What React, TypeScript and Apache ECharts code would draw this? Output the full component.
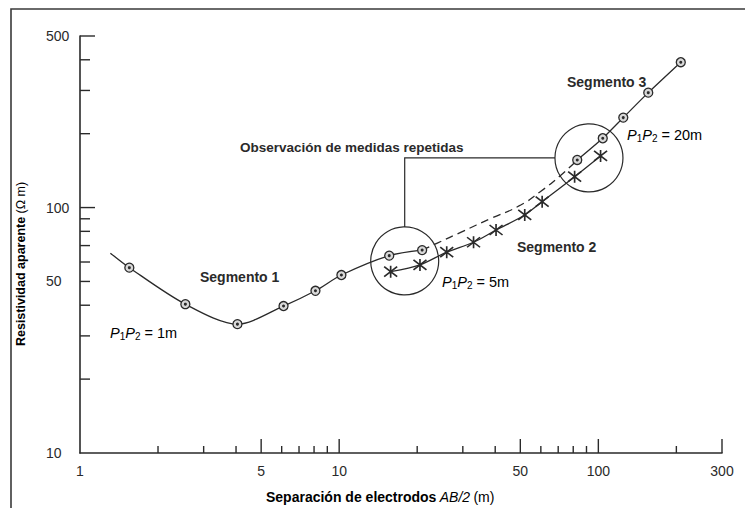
import React, { useEffect, useRef } from 'react';
import * as echarts from 'echarts';

// Schlumberger sounding: apparent resistivity against half electrode spacing AB/2.
// Readings with potential electrode spacing P1P2 = 1 m (segment 1 and repeats)
const spacing1m = [1.55, 2.55, 4.05, 6.1, 8.1, 10.2, 15.6, 20.9];
const rho1m = [56.9, 40.4, 33.5, 39.7, 45.8, 53.1, 63.7, 67.1];
// where the hand-drawn curve of segment 1 begins, before the first reading
const curveStart = [1.31, 65.2];
// Readings with P1P2 = 5 m (segment 2)
const spacing5m = [15.8, 20.5, 26, 33, 40.3, 52, 60.7, 81, 102];
const rho5m = [54.8, 58.4, 65.8, 72.2, 81.0, 93.3, 105.7, 133.6, 162.3];
// Readings with P1P2 = 20 m (segment 3)
const spacing20m = [82.9, 104, 124.8, 155.8, 208];
const rho20m = [156.3, 191.6, 232.5, 293.9, 391];
// dashed shifted curve joining segment 1 to segment 3
const linkSpacing = [20.9, 23.8, 30, 38.2, 49.8, 59.5, 71.1, 82.9];
const linkRho = [67.1, 71.5, 80.0, 90.0, 102.0, 115.8, 134.5, 156.3];

// axis ranges and ticks
const X_MIN = 1;
const X_MAX = 300;
const Y_MIN = 10;
const Y_MAX = 500;
const xLabelValues = [1, 5, 10, 50, 100, 300];
const xMajorTicks = [5, 10, 50, 100, 300];
const xMinorTicks = [2, 3, 4, 6, 7, 8, 9, 20, 30, 40, 60, 70, 80, 90, 200];
const yLabelValues = [10, 50, 100, 500];
const yMajorTicks = [100, 500];
const yMinorTicks = [20, 30, 40, 50, 60, 70, 80, 90, 200, 300, 400];

// centres of the circles marking the repeated measurements (data coords)
const repeatCircle1 = [17.9, 60.6];
const repeatCircle2 = [92.0, 159.3];

const FONT = '"Liberation Sans", Arial, Helvetica, sans-serif';
const INK = '#2a2a2a';

const zip = (xs: number[], ys: number[]) => xs.map((x, i) => [x, ys[i]]);

const CROSS = 'path://M0,1L12,11M12,1L0,11M6,0L6,12';

function tickSeries(values: number[], axis: 'x' | 'y', len: number) {
  return {
    type: 'custom',
    silent: true,
    z: 6,
    data: values.map((v) => (axis === 'x' ? [v, Y_MIN] : [X_MIN, v])),
    renderItem: (_p: any, api: any) => {
      const p = api.coord([api.value(0), api.value(1)]);
      return {
        type: 'line',
        shape:
          axis === 'x'
            ? { x1: p[0], y1: p[1], x2: p[0], y2: p[1] - len }
            : { x1: p[0], y1: p[1], x2: p[0] + len, y2: p[1] },
        style: { stroke: INK, lineWidth: 1.4 },
      };
    },
  };
}

function labelSeries(values: number[], axis: 'x' | 'y') {
  return {
    type: 'custom',
    silent: true,
    z: 6,
    data: values.map((v) => (axis === 'x' ? [v, Y_MIN] : [X_MIN, v])),
    renderItem: (_p: any, api: any) => {
      const v = axis === 'x' ? api.value(0) : api.value(1);
      const p = api.coord([api.value(0), api.value(1)]);
      return {
        type: 'text',
        x: axis === 'x' ? p[0] : p[0] - 34,
        y: axis === 'x' ? p[1] + 18 : p[1],
        style: {
          text: String(v),
          fill: INK,
          fontSize: 14,
          fontFamily: FONT,
          align: axis === 'x' ? 'center' : 'left',
          verticalAlign: 'middle',
        },
      };
    },
  };
}

const pRich = (size: number) => ({
  p: { fontStyle: 'italic', fontSize: size, fontFamily: FONT, lineHeight: 17, color: INK },
  s: { fontSize: 10, fontFamily: FONT, lineHeight: 9, verticalAlign: 'bottom', color: INK },
  n: { fontSize: size, fontFamily: FONT, lineHeight: 17, color: INK },
});

function electrodeLabel(x: number, y: number, dist: string) {
  return {
    type: 'text',
    x,
    y,
    style: {
      text: `{p|P}{s|1}{p|P}{s|2}{n| = ${dist}}`,
      rich: pRich(14.5),
      align: 'left',
      verticalAlign: 'middle',
    },
  };
}

function boldLabel(x: number, y: number, text: string, size = 14) {
  return {
    type: 'text',
    x,
    y,
    style: {
      text,
      fill: INK,
      fontSize: size,
      fontWeight: 'bold',
      fontFamily: FONT,
      align: 'left',
      verticalAlign: 'middle',
    },
  };
}

export default function App() {
  const ref = useRef<HTMLDivElement>(null);

  useEffect(() => {
    const chart = echarts.init(ref.current!, null, { renderer: 'svg' });
    const axisCommon = {
      axisLine: { show: true, onZero: false, lineStyle: { color: INK, width: 1.6 } },
      axisTick: { show: false },
      axisLabel: { show: false },
      splitLine: { show: false },
      minorTick: { show: false },
    };
    const lineStyle = { color: INK, width: 1.3 };

    chart.setOption({
      animation: false,
      backgroundColor: '#ffffff',
      grid: { left: 80, top: 36, width: 642, height: 417, containLabel: false },
      xAxis: { type: 'log', logBase: 10, min: X_MIN, max: X_MAX, ...axisCommon },
      yAxis: { type: 'log', logBase: 10, min: Y_MIN, max: Y_MAX, ...axisCommon },
      series: [
        {
          name: 'P1P2 = 1m',
          type: 'line',
          data: [curveStart, ...zip(spacing1m, rho1m)],
          smooth: 0.3,
          showSymbol: false,
          lineStyle,
          z: 3,
        },
        {
          name: 'curva desplazada',
          type: 'line',
          data: zip(linkSpacing, linkRho),
          smooth: 0.6,
          showSymbol: false,
          lineStyle: { ...lineStyle, type: [8, 5] },
          z: 3,
        },
        {
          name: 'P1P2 = 20m',
          type: 'line',
          data: zip(spacing20m, rho20m),
          smooth: 0.2,
          showSymbol: false,
          lineStyle,
          z: 3,
        },
        {
          name: 'P1P2 = 5m',
          type: 'line',
          data: zip(spacing5m, rho5m),
          smooth: 0.3,
          showSymbol: false,
          lineStyle,
          z: 3,
        },
        {
          name: 'lecturas 1m/20m',
          type: 'scatter',
          data: [...zip(spacing1m, rho1m), ...zip(spacing20m, rho20m)],
          symbol: 'circle',
          symbolSize: 9,
          itemStyle: { color: '#d8d8d8', borderColor: INK, borderWidth: 1.3, opacity: 1 },
          z: 4,
        },
        {
          name: 'centros',
          type: 'scatter',
          data: [...zip(spacing1m, rho1m), ...zip(spacing20m, rho20m)],
          symbol: 'circle',
          symbolSize: 3,
          itemStyle: { color: INK, opacity: 1 },
          z: 5,
        },
        {
          name: 'lecturas 5m',
          type: 'scatter',
          data: zip(spacing5m, rho5m),
          symbol: CROSS,
          symbolSize: [13, 12],
          itemStyle: { color: 'rgba(0,0,0,0)', borderColor: INK, borderWidth: 1.6, opacity: 1 },
          z: 5,
        },
        tickSeries(xMajorTicks, 'x', 14),
        tickSeries(xMinorTicks, 'x', 7),
        tickSeries(yMajorTicks, 'y', 15),
        tickSeries(yMinorTicks, 'y', 10),
        labelSeries(xLabelValues, 'x'),
        labelSeries(yLabelValues, 'y'),
      ],
    });

    const px = (v: number[]) => chart.convertToPixel({ gridIndex: 0 }, v) as number[];
    const c1 = px(repeatCircle1);
    const c2 = px(repeatCircle2);
    const r = 34;
    const ring = { fill: 'none', stroke: INK, lineWidth: 1.2 };

    chart.setOption({
      graphic: [
        { type: 'rect', shape: { x: 11, y: 9, width: 760, height: 530 }, style: { fill: 'none', stroke: '#3a3a3a', lineWidth: 1.6 } },
        { type: 'circle', shape: { cx: c1[0], cy: c1[1], r }, style: ring },
        { type: 'circle', shape: { cx: c2[0], cy: c2[1], r }, style: ring },
        {
          type: 'polyline',
          shape: { points: [[c1[0], c1[1] - r], [c1[0], c2[1]], [c2[0] - r, c2[1]]] },
          style: ring,
        },
        boldLabel(200, 277, 'Segmento 1'),
        boldLabel(517, 247, 'Segmento 2'),
        boldLabel(567, 82, 'Segmento 3'),
        boldLabel(240, 147, 'Observación de medidas repetidas', 13.5),
        electrodeLabel(110, 333, '1m'),
        electrodeLabel(442, 282, '5m'),
        electrodeLabel(627, 135, '20m'),
        {
          type: 'text',
          x: 266,
          y: 497,
          style: {
            text: '{b|Separación de electrodos} {i|AB/2} {n|(m)}',
            align: 'left',
            verticalAlign: 'middle',
            rich: {
              b: { fontSize: 14, fontWeight: 'bold', fontFamily: FONT, color: INK },
              i: { fontSize: 14, fontStyle: 'italic', fontFamily: FONT, color: INK },
              n: { fontSize: 14, fontFamily: FONT, color: INK },
            },
          },
        },
        {
          type: 'text',
          x: 21,
          y: 264,
          rotation: Math.PI / 2,
          style: {
            text: '{b|Resistividad aparente} {n|(Ω m)}',
            align: 'center',
            verticalAlign: 'middle',
            rich: {
              b: { fontSize: 12.5, fontWeight: 'bold', fontFamily: FONT, color: INK },
              n: { fontSize: 12.5, fontFamily: FONT, color: INK },
            },
          },
        },
      ],
    });

    return () => chart.dispose();
  }, []);

  return (
    <div
      ref={ref}
      style={{ position: 'fixed', left: 0, top: 0, width: 745, height: 508, background: '#fff' }}
    />
  );
}
